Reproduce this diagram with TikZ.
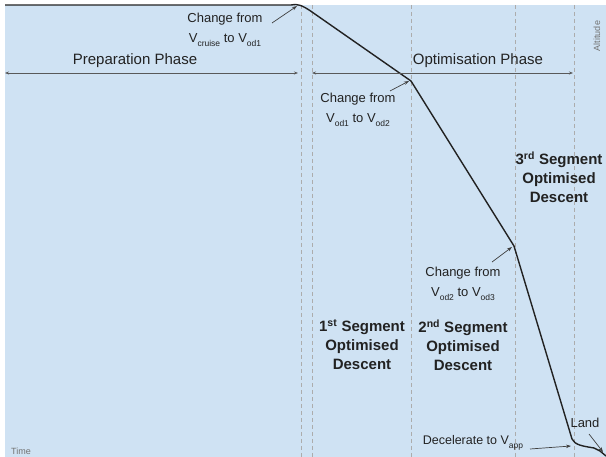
\documentclass[tikz,border=0pt]{standalone}
\usepackage{fontspec}
\setmainfont{Liberation Sans}
\usetikzlibrary{arrows.meta}
\definecolor{bgblue}{HTML}{CFE2F3}
\definecolor{ink}{HTML}{222222}
\newcommand{\vsub}[1]{\raisebox{-0.5ex}{\fontsize{8.5}{8.5}\selectfont #1}}
\begin{document}
\begin{tikzpicture}[x=1pt,y=-1pt,
  lbl/.style={font=\fontsize{13}{20}\selectfont, align=center, text=ink, inner sep=0},
  phase/.style={font=\fontsize{15}{18}\selectfont, inner sep=0, text=ink},
  seg/.style={font=\bfseries\fontsize{15}{19}\selectfont, align=center, inner sep=0, text=ink},
  axislbl/.style={font=\fontsize{9}{10}\selectfont, text=gray!90!black, inner sep=0},
  guide/.style={draw=gray!65, dash pattern=on 4pt off 3pt, line width=0.6pt},
  pointer/.style={draw=black!75, line width=0.7pt, -{Stealth[length=5pt,width=3.5pt]}},
  span/.style={draw=gray!70!black, line width=0.6pt, {Stealth[length=4pt,width=3pt]}-{Stealth[length=4pt,width=3pt]}},
  profile/.style={draw=ink, line width=1.4pt, line join=round}
]
\useasboundingbox (0,0) rectangle (606,457);
\fill[bgblue] (5,5) rectangle (606,457);

% dashed guides
\foreach \gx in {301,312,411,515,574}
  \draw[guide] (\gx,5) -- (\gx,457);

% altitude profile
\draw[profile] (5,5) -- (291,5) .. controls (297,3.5) and (302,5) .. (312,12)
  -- (411,81) -- (514,246) -- (572,439)
  .. controls (575,445) and (582,446) .. (594,448) -- (600,451) -- (606,456);

% phase spans
\coordinate (prepL) at (5,73);
\coordinate (prepR) at (298,73);
\coordinate (optL) at (312,73);
\coordinate (optR) at (573,73);
\draw[span] (prepL) -- (prepR);
\draw[span] (optL) -- (optR);
\node[phase] (prep) at (135,61) {Preparation Phase};
\node[phase] (opt) at (478,61) {Optimisation Phase};

% change labels
\node[lbl] (ch1) at (225,30) {Change from\\V\vsub{cruise} to V\vsub{od1}};
\coordinate (ch1s) at (272,23);
\coordinate (ch1e) at (297,6);
\draw[pointer] (ch1s) -- (ch1e);

\node[lbl] (ch2) at (358,110) {Change from\\V\vsub{od1} to V\vsub{od2}};
\coordinate (ch2s) at (390,91);
\coordinate (ch2e) at (409,81);
\draw[pointer] (ch2s) -- (ch2e);

\node[lbl] (ch3) at (463,284) {Change from\\V\vsub{od2} to V\vsub{od3}};
\coordinate (ch3s) at (492,262);
\coordinate (ch3e) at (512,247);
\draw[pointer] (ch3s) -- (ch3e);

% segment labels
\node[seg] (s1) at (362,345) {1\textsuperscript{st} Segment\\Optimised\\Descent};
\node[seg] (s2) at (463,345) {2\textsuperscript{nd} Segment\\Optimised\\Descent};
\node[seg] (s3) at (559,177) {3\textsuperscript{rd} Segment\\Optimised\\Descent};

% landing labels
\node[lbl, font=\fontsize{12.5}{20}\selectfont] (dec) at (473,443) {Decelerate to V\vsub{app}};
\coordinate (decs) at (530,449);
\coordinate (dece) at (571,446);
\draw[pointer] (decs) -- (dece);

\node[lbl] (land) at (585,423) {Land};
\coordinate (lands) at (589,434);
\coordinate (lande) at (603,452);
\draw[pointer] (lands) -- (lande);

% axis labels
\node[axislbl] (time) at (21,451) {Time};
\node[axislbl, rotate=90] (alt) at (597,36) {Altitude};
\end{tikzpicture}
\end{document}
